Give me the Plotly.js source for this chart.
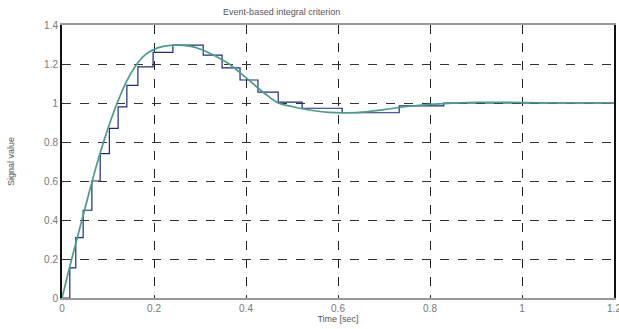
<!DOCTYPE html>
<html>
<head>
<meta charset="utf-8">
<script src="https://cdn.plot.ly/plotly-3.0.1.min.js"></script>
<style>html,body{margin:0;padding:0;background:#fff;}#chart{width:619px;height:329px;}</style>
</head>
<body>
<div id="chart"></div>
<script>
// Continuous response
var curveTime = [0, 0.02, 0.04, 0.06, 0.08, 0.10, 0.12, 0.14, 0.16, 0.18, 0.20, 0.22, 0.25, 0.28, 0.30, 0.33, 0.36, 0.40, 0.44, 0.47, 0.50, 0.54, 0.58, 0.62, 0.66, 0.70, 0.75, 0.80, 0.90, 1.00, 1.10, 1.20];
var curveValue = [0, 0.19, 0.37, 0.55, 0.72, 0.87, 1.00, 1.11, 1.19, 1.245, 1.275, 1.29, 1.297, 1.29, 1.277, 1.245, 1.205, 1.13, 1.05, 1.0, 0.982, 0.963, 0.952, 0.95, 0.955, 0.966, 0.982, 0.993, 1.003, 1.002, 1.0, 1.0];
// Event-based (held) signal
var stepTime = [0, 0.017, 0.030, 0.046, 0.065, 0.083, 0.103, 0.122, 0.141, 0.165, 0.198, 0.241, 0.307, 0.348, 0.387, 0.426, 0.470, 0.522, 0.609, 0.733, 0.830, 1.20];
var stepValue = [0, 0.154, 0.31, 0.45, 0.60, 0.74, 0.87, 0.98, 1.09, 1.185, 1.26, 1.297, 1.246, 1.18, 1.118, 1.056, 1.005, 0.973, 0.95, 0.985, 1.0, 1.0];
var xTicks = [0, 0.2, 0.4, 0.6, 0.8, 1, 1.2];
var yTicks = [0, 0.2, 0.4, 0.6, 0.8, 1, 1.2, 1.4];

var traces = [
  {x: stepTime, y: stepValue, type: 'scatter', mode: 'lines', line: {shape: 'hv', color: '#1c2a80', width: 1.2}, hoverinfo: 'none'},
  {x: curveTime, y: curveValue, type: 'scatter', mode: 'lines', line: {shape: 'spline', color: '#4a9c8c', width: 1.7}, hoverinfo: 'none'}
];
var layout = {
  width: 619, height: 329,
  margin: {l: 62, r: 5, t: 25, b: 31},
  paper_bgcolor: '#fff', plot_bgcolor: '#fff',
  showlegend: false,
  font: {family: 'Liberation Sans, Arial, sans-serif', color: '#666', size: 10},
  title: {text: 'Event-based integral criterion', font: {size: 9, color: '#555'}, x: 0.455, xanchor: 'center', y: 0.975, yanchor: 'top'},
  xaxis: {
    range: [0, 1.2], tickvals: xTicks, ticktext: xTicks.map(String),
    showgrid: true, gridcolor: '#222', griddash: 'dash', gridwidth: 1,
    zeroline: false, showline: true, linecolor: '#999', linewidth: 2, mirror: true,
    ticks: 'inside', ticklen: 3, tickcolor: '#333',
    ticklabeloverflow: 'allow',
    tickfont: {size: 10, color: '#777'},
    title: {text: 'Time [sec]', font: {size: 9, color: '#555'}, standoff: 2}
  },
  yaxis: {
    range: [0, 1.4], tickvals: yTicks, ticktext: yTicks.map(String),
    showgrid: true, gridcolor: '#333', griddash: 'dash', gridwidth: 1,
    zeroline: false, showline: true, linecolor: '#111', linewidth: 2, mirror: true,
    ticks: 'inside', ticklen: 3, tickcolor: '#333',
    ticklabeloverflow: 'allow',
    tickfont: {size: 10, color: '#777'},
    title: {text: 'Signal value', font: {size: 9, color: '#555'}, standoff: 28}
  }
};
Plotly.newPlot('chart', traces, layout, {staticPlot: true, displayModeBar: false});
</script>
</body>
</html>
